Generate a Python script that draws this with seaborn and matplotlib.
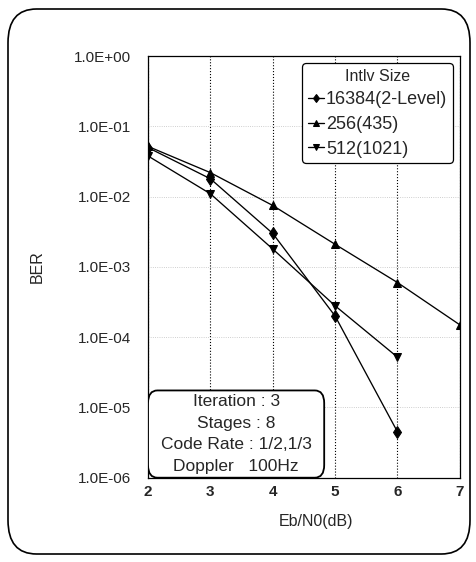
import numpy as np
import pandas as pd
import seaborn as sns
import matplotlib.pyplot as plt
from matplotlib.patches import FancyBboxPatch
from matplotlib.ticker import FixedLocator, FuncFormatter, NullLocator

# values
snr = [2, 3, 4, 5, 6, 7]
ber_16384 = [0.050, 0.018, 0.0030, 2.0e-4, 4.5e-6]
ber_256 = [0.052, 0.022, 0.0075, 0.0021, 6.0e-4, 1.5e-4]
ber_512 = [0.038, 0.011, 0.0018, 2.8e-4, 5.2e-5]
labels = ['16384(2-Level)', '256(435)', '512(1021)']
info_lines = ['Iteration : 3', 'Stages : 8', 'Code Rate : 1/2,1/3', 'Doppler   100Hz']

# long form table for seaborn
rows = []
for lab, vals in zip(labels, [ber_16384, ber_256, ber_512]):
    for x, y in zip(snr, vals):
        rows.append({'snr': x, 'ber': y, 'size': lab})
df = pd.DataFrame(rows)

sns.set_style("white")
plt.rcParams['font.family'] = ['Liberation Sans', 'DejaVu Sans']

fig = plt.figure(figsize=(4.76, 5.62), dpi=100)
ax = fig.add_axes([0.311, 0.150, 0.655, 0.750])

# rounded frame round the whole figure
frame = FancyBboxPatch((8 / 476, 8 / 562), 462 / 476, 545 / 562,
                       boxstyle="round,pad=0,rounding_size=0.06",
                       transform=fig.transFigure, fill=False, ec='black', lw=1.2)
fig.patches.append(frame)

sns.lineplot(data=df, x='snr', y='ber', hue='size', style='size',
             markers={'16384(2-Level)': 'd', '256(435)': '^', '512(1021)': 'v'},
             dashes=False, palette=['black'] * 3, linewidth=0.95,
             markersize=6, markeredgecolor='black', ax=ax)

ax.set_yscale('log')
ax.set_xlim(2, 7)
ax.set_ylim(1e-6, 1.0)
ax.yaxis.set_major_locator(FixedLocator([10.0 ** k for k in range(-6, 1)]))
ax.yaxis.set_minor_locator(NullLocator())
ax.yaxis.set_major_formatter(FuncFormatter(lambda v, p: f"{v:.1E}"))
ax.set_xticks(snr)
ax.tick_params(axis='y', length=0, labelsize=11, pad=12)
ax.tick_params(axis='x', length=0, labelsize=11, pad=5)
for t in ax.get_xticklabels():
    t.set_fontweight('bold')

ax.xaxis.grid(True, ls=':', color='black', lw=0.8)
ax.yaxis.grid(True, ls=':', color='0.75', lw=0.6)
for s in ax.spines.values():
    s.set_color('black')
    s.set_linewidth(0.9)

ax.set_xlabel('Eb/N0(dB)', fontsize=11.5)
ax.xaxis.set_label_coords(0.54, -0.085)
ax.set_ylabel('BER', fontsize=11.5)
ax.yaxis.set_label_coords(-0.33, 0.50)

leg = ax.legend(title='Intlv Size', loc='upper right', fontsize=13,
                title_fontsize=11.5, frameon=True, fancybox=True,
                handlelength=0.9, handletextpad=0.1, labelspacing=0.42,
                borderaxespad=0.4, borderpad=0.3, edgecolor='black')
leg.get_frame().set_linewidth(0.9)
leg.get_frame().set_alpha(1)
for h in leg.legend_handles:
    h.set_markersize(4.5)

# info box sitting on the lower left corner of the axes
box = FancyBboxPatch((0.0, 0.0), 0.565, 0.207,
                     boxstyle="round,pad=0,rounding_size=0.03",
                     transform=ax.transAxes, fc='white', ec='black', lw=1.3,
                     zorder=5)
ax.add_patch(box)
ax.text(0.2825, 0.1035, '\n'.join(info_lines), transform=ax.transAxes,
        ha='center', va='center', fontsize=12.5, linespacing=1.55, zorder=6)

fig.savefig('out.png', dpi=100)
